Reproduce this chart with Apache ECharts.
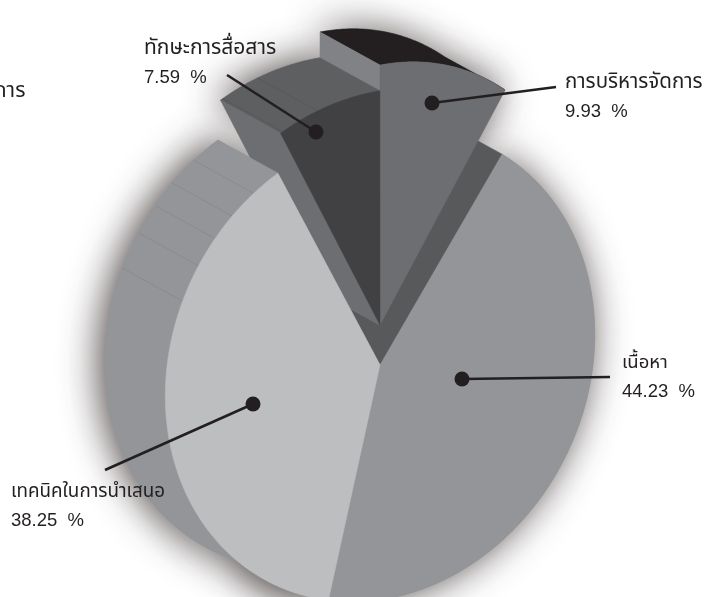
<!DOCTYPE html>
<html><head><meta charset="utf-8">
<style>html,body{margin:0;padding:0;background:#fff}#c{width:720px;height:597px}</style>
<script src="https://cdn.jsdelivr.net/npm/echarts@6/dist/echarts.min.js"></script>
</head><body><div id="c"></div>
<script>
const categories = ['เนื้อหา','เทคนิคในการนำเสนอ','ทักษะการสื่อสาร','การบริหารจัดการ'];
const shares = [44.23, 38.25, 7.59, 9.93];
const clippedText = 'การ';
const wallLineAnglesLight = [321.3,313.8,307.1,299.6,290.5];
const wallLineAnglesDark = [329.6,339.5];

// layout of the drawing (pixels)
const RAD = Math.PI/180;
const APEX_MAIN=[380,365], APEX_TOP=[380,325], EXTRUDE=[-60,-33];
const M_MAIN={U:[214.5,-20],V:[10,-236]}, M_DARK={U:[216,-20],V:[14,-236]}, M_GRAY={U:[214,-41],V:[0,-260]};
const deg = s => s*3.6;
const START=32;
const T=[];
{let a=START; shares.forEach((s,i)=>{T[i]=[a,a+deg(s)]; a+=deg(s);});}
T[3]=[0,deg(shares[3])];
const APEX=[APEX_MAIN,APEX_MAIN,APEX_TOP,APEX_TOP];
const MAT=[M_MAIN,M_MAIN,M_DARK,M_GRAY];
const pt=(i,t)=>{const m=MAT[i],a=APEX[i],s=Math.sin(t*RAD),c=Math.cos(t*RAD);
  return [a[0]+m.U[0]*s+m.V[0]*c,a[1]+m.U[1]*s+m.V[1]*c];};
const sh=(p)=>[p[0]+EXTRUDE[0],p[1]+EXTRUDE[1]];
const arc=i=>{const r=[];const n=70;for(let k=0;k<=n;k++)r.push(pt(i,T[i][0]+(T[i][1]-T[i][0])*k/n));return r;};
const polyFace=i=>[APEX[i]].concat(arc(i));
const polyOuter=i=>{const a=arc(i);return a.concat(a.map(sh).reverse());};
const polySide=(i,t)=>{const p=pt(i,t),a=APEX[i];return [a,p,sh(p),sh(a)];};
const poly=(points,fill,extra)=>({type:'polygon',shape:{points},style:Object.assign({fill,stroke:fill,lineWidth:0.5},extra||{}),silent:true});
const wline=(i,t,col)=>{const p=pt(i,t),q=sh(p);return {type:'line',shape:{x1:p[0],y1:p[1],x2:q[0],y2:q[1]},style:{stroke:col,lineWidth:0.5,fill:null},silent:true};};
const SHADOW={shadowBlur:38,shadowOffsetX:-5,shadowColor:'rgba(50,40,40,0.85)'};

const colors={bigFace:'#939598',lightFace:'#bcbec0',lightWall:'#939598',bigSide:'#58595b',
  grayFace:'#6d6e71',grayOuter:'#231f20',graySide:'#808285',darkFace:'#414042',darkOuter:'#5e5f61',darkSide:'#6d6e71',wallLine:'#808184'};

const layers=[
 ()=>[0,1,2,3].map(i=>poly(polyFace(i),'#999',SHADOW)).concat([1,2,3].map(i=>poly(polyOuter(i),'#999',SHADOW))),
 ()=>[poly(polySide(0,T[0][0]),colors.bigSide)],
 ()=>[poly(polyOuter(3),colors.grayOuter),poly(polySide(3,T[3][0]),colors.graySide)],
 ()=>[poly(polyOuter(2),colors.darkOuter),poly(polySide(2,T[2][0]),colors.darkSide)].concat(wallLineAnglesDark.map(t=>wline(2,t,'#505153'))),
 ()=>[poly(polyFace(3),colors.grayFace),poly(polyFace(2),colors.darkFace)],
 ()=>[poly(polyOuter(1),colors.lightWall),poly(polySide(1,T[1][1]),colors.lightWall)].concat(wallLineAnglesLight.map(t=>wline(1,t,colors.wallLine))),
 ()=>[poly(polyFace(0),colors.bigFace),poly(polyFace(1),colors.lightFace)]
];

const leaders=[[462,379,610,377],[253,404,105,470],[316,132,227,75],[432,103,556,87]];
const labelPos=[[622,350],[11,479],[144,36],[565,70]];
const THAI='"Noto Sans Thai","Noto Sans",Roboto,"DejaVu Sans",sans-serif';
const LATIN='"Liberation Sans",Arial,sans-serif';
const nameSizes=[18.5,18.8,21,20.5];
const rich={v:{fontSize:18.5,lineHeight:28,fontFamily:LATIN,color:'#231f20'}};
nameSizes.forEach((s,i)=>{rich['n'+i]={fontSize:s,lineHeight:28,fontFamily:THAI,color:'#231f20'};});

const chart=echarts.init(document.getElementById('c'),null,{renderer:'canvas'});
chart.setOption({
 animation:false,
 backgroundColor:'#fff',
 graphic:[{type:'text',left:-6,top:82,z:10,style:{text:clippedText,font:'21px '+THAI,fill:'#231f20'}}],
 series:[
  {type:'custom',coordinateSystem:'none',z:2,silent:true,
   data:layers.map((_,i)=>[i]),
   renderItem:(p,api)=>({type:'group',children:layers[api.value(0)]()})},
  {type:'pie',z:3,silent:true,center:APEX_MAIN,radius:[0,200],startAngle:90-START,
   itemStyle:{color:'transparent'},
   data:categories.map((n,i)=>({name:n,value:shares[i]})),
   label:{show:true,position:'outside',overflow:'none',width:240,color:'#231f20',align:'left',
     formatter:q=>'{n'+q.dataIndex+'|'+q.name+'}\n{v|'+q.value+'  %}',
     rich},
   labelLine:{show:false},
   labelLayout:(q)=>({x:labelPos[q.dataIndex][0],y:labelPos[q.dataIndex][1],align:'left',verticalAlign:'top',hideOverlap:false})},
  {type:'custom',coordinateSystem:'none',z:4,silent:true,
   data:leaders,
   renderItem:(p,api)=>{const a=[0,1,2,3].map(k=>api.value(k));return {type:'group',children:[
     {type:'line',shape:{x1:a[0],y1:a[1],x2:a[2],y2:a[3]},style:{stroke:'#231f20',lineWidth:2.6,fill:null}},
     {type:'circle',shape:{cx:a[0],cy:a[1],r:7.5},style:{fill:'#231f20'}}]};}}
 ]
});
</script></body></html>
